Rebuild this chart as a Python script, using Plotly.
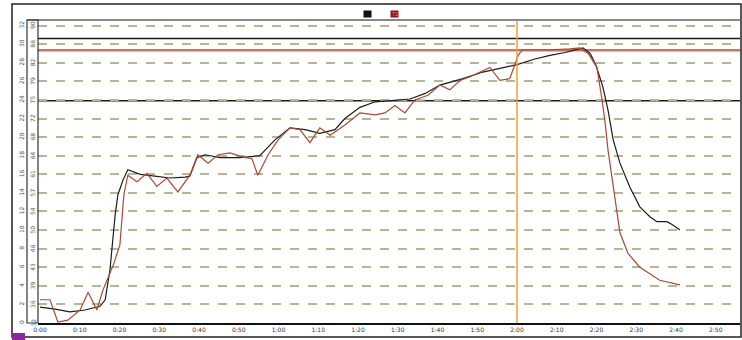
import plotly.graph_objects as go

# ---- data (time in minutes, temperature) ----
black_x = [0, 3.8, 7.5, 11.3, 15.1, 16.4, 17.6, 18.9, 19.6, 20.9, 22.1, 25.2, 28.9, 32.7, 36.5, 37.7,
           39.5, 41.5, 45.3, 50.3, 55.3, 59.1, 62.9, 66.7, 70.4, 74.2, 76.7, 80.5, 84.3, 88.1, 93.1,
           96.9, 100.6, 106.4, 111.4, 115.7, 120, 124.5, 128.3, 132.1, 135.1, 136.6, 138.4, 139.9,
           141.6, 142.9, 144.2, 145.9, 148.4, 150.9, 153.5, 155.2, 157.7, 159, 161]
black_y = [1.7, 1.5, 1.2, 1.4, 1.8, 2.5, 5.7, 11.6, 13.8, 15.4, 16.5, 16.0, 15.8, 15.6, 15.7, 15.8,
           17.8, 18.1, 17.8, 17.8, 18.0, 19.7, 21.0, 20.8, 20.4, 20.8, 22.0, 23.2, 23.8, 23.9, 24.1,
           24.7, 25.6, 26.3, 27.0, 27.4, 27.8, 28.4, 28.8, 29.1, 29.4, 29.6, 29.0, 27.7,
           25.4, 22.9, 19.7, 17.2, 14.6, 12.5, 11.4, 10.9, 10.9, 10.6, 10.0]

red_x = [0, 2.5, 4.5, 7.0, 10.1, 12.1, 14.3, 15.8, 18.4, 20.1, 21.1, 22.1, 24.4, 26.9, 29.4, 31.9,
         34.7, 37.7, 39.7, 42.3, 44.8, 47.8, 51.6, 53.3, 54.8, 57.4, 59.9, 62.9, 65.4, 67.9, 70.4,
         73.0, 76.7, 80.5, 84.3, 86.8, 89.3, 91.8, 94.3, 97.6, 100.6, 103.1, 105.7, 108.2, 113.2,
         115.7, 118.2, 120.3, 121.3, 128.3, 133.3, 135.8, 137.9, 140.1, 141.4, 142.1, 142.9, 144.2,
         145.9, 147.9, 150.9, 155.9, 161]
red_y = [2.5, 2.5, 0.1, 0.3, 1.4, 3.3, 1.4, 3.5, 6.2, 8.4, 13.8, 15.9, 15.2, 16.1, 14.7, 15.6,
         14.1, 15.9, 18.1, 17.2, 18.1, 18.3, 17.8, 17.7, 15.9, 18.1, 19.7, 21.0, 20.8, 19.4, 21.0,
         20.2, 21.3, 22.6, 22.4, 22.6, 23.4, 22.6, 24.0, 24.5, 25.6, 25.1, 26.1, 26.5, 27.5,
         26.1, 26.3, 28.8, 29.4, 29.4, 29.5, 29.6, 29.0, 27.5, 24.0, 21.8, 18.6, 14.6,
         9.7, 7.5, 6.0, 4.6, 4.1]

ref_black_levels = [30.6, 23.9]
ref_red_level = 29.35
marker_time = 120

x_tickvals = [0, 10, 20, 30, 40, 50, 60, 70, 80, 90, 100, 110, 120, 130, 140, 150, 160, 170]
x_ticktext = ["0:00", "0:10", "0:20", "0:30", "0:40", "0:50", "1:00", "1:10", "1:20", "1:30",
              "1:40", "1:50", "2:00", "2:10", "2:20", "2:30", "2:40", "2:50"]
y_tickvals = [0, 2, 4, 6, 8, 10, 12, 14, 16, 18, 20, 22, 24, 26, 28, 30, 32]
y_ticktext = ["0", "2", "4", "6", "8", "10", "12", "14", "16", "18", "20", "22", "24", "26", "28", "30", "32"]
inner_labels = ["32", "36", "39", "43", "46", "50", "54", "57", "61", "64", "68", "72", "75", "79", "82", "86", "90"]

W, H = 742, 340
L, R, T, B = 38, 2, 20, 17
pw, ph = W - L - R, H - T - B


def px(x):
    return (x - L) / pw


def py(y):
    return (H - B - y) / ph


fig = go.Figure()
fig.add_trace(go.Scatter(x=black_x, y=black_y, mode="lines", name="T1",
                         line=dict(color="#1c1c1c", width=1.2)))
fig.add_trace(go.Scatter(x=red_x, y=red_y, mode="lines", name="T2",
                         line=dict(color="#ac4a32", width=1.2)))

shapes = []
for lv in ref_black_levels:
    shapes.append(dict(type="line", xref="paper", x0=0, x1=1, yref="y", y0=lv, y1=lv,
                       line=dict(color="#1a1a1a", width=1.5), layer="below"))
shapes.append(dict(type="line", xref="paper", x0=0, x1=1, yref="y", y0=ref_red_level, y1=ref_red_level,
                   line=dict(color="#cc7460", width=2.5), layer="below"))
shapes.append(dict(type="line", xref="x", x0=marker_time, x1=marker_time, yref="paper", y0=0, y1=1.0,
                   line=dict(color="#f0a030", width=1.5)))
# frame decorations
shapes.append(dict(type="rect", xref="paper", yref="paper", x0=px(12), x1=px(741), y0=py(337), y1=py(4),
                   line=dict(color="#222", width=1.5)))
shapes.append(dict(type="line", xref="paper", yref="paper", x0=px(27), x1=1, y0=1, y1=1,
                   line=dict(color="#888", width=2)))
shapes.append(dict(type="rect", xref="paper", yref="paper", x0=px(27), x1=0, y0=0, y1=1,
                   line=dict(color="#333", width=1.2)))
shapes.append(dict(type="rect", xref="paper", yref="paper", x0=px(12), x1=px(25), y0=py(340), y1=py(333),
                   fillcolor="#8a2a9a", line=dict(width=0)))

annotations = []
for v, t in zip(y_tickvals, inner_labels):
    annotations.append(dict(x=px(32.5), xref="paper", y=v, yref="y", text=t, showarrow=False,
                            textangle=-90, font=dict(size=6, color="#555"), xanchor="center", yanchor="middle"))
annotations.append(dict(x=px(367), y=py(10), xref="paper", yref="paper", text="T1", showarrow=False,
                        bgcolor="#111", font=dict(size=5, color="#111"), borderpad=0))
annotations.append(dict(x=px(394), y=py(10), xref="paper", yref="paper", text="T2", showarrow=False,
                        bgcolor="#8e1418", font=dict(size=5, color="#e08080"), borderpad=0))

fig.update_layout(
    width=W, height=H, margin=dict(l=L, r=R, t=T, b=B),
    paper_bgcolor="white", plot_bgcolor="white", showlegend=False,
    shapes=shapes, annotations=annotations,
    font=dict(family="DejaVu Sans", size=6, color="#444"),
)
fig.update_xaxes(range=[-0.5, 176.1], tickvals=x_tickvals, ticktext=x_ticktext, showgrid=False,
                 showline=True, linecolor="#111", linewidth=1.5, ticks="", tickfont=dict(size=6, color="#333"),
                 zeroline=False, automargin=False)
fig.update_yaxes(range=[0, 32.6], tickvals=y_tickvals, ticktext=y_ticktext, showgrid=True,
                 gridcolor="#b6b694", griddash="dash", gridwidth=1.5, zeroline=False,
                 showline=False, ticks="", tickangle=-90, ticklabelstandoff=12,
                 tickfont=dict(size=6, color="#555"), automargin=False)

fig.write_html("out.html", config={"displayModeBar": False},
               post_script="document.body.style.margin='0';document.body.style.overflow='hidden';")
